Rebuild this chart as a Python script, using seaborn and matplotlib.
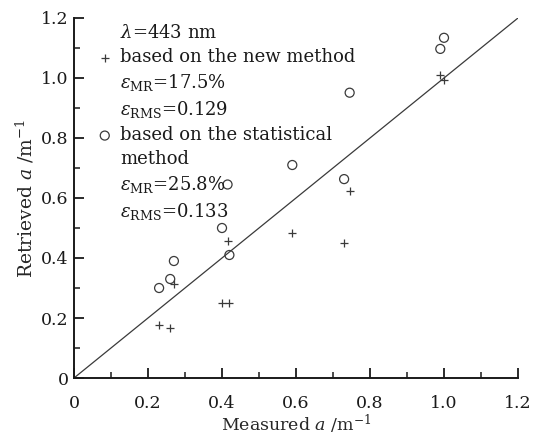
import matplotlib
matplotlib.use("Agg")
import matplotlib.pyplot as plt
from matplotlib.lines import Line2D
from matplotlib.ticker import MultipleLocator, FuncFormatter
import pandas as pd
import seaborn as sns

# measured vs retrieved absorption at 443 nm
measured = [0.23, 0.26, 0.27, 0.40, 0.415, 0.42, 0.59, 0.73, 0.745, 0.99, 1.00]
new_method = [0.177, 0.166, 0.313, 0.25, 0.456, 0.25, 0.484, 0.45, 0.623, 1.01, 0.993]
statistical = [0.30, 0.33, 0.39, 0.50, 0.645, 0.41, 0.71, 0.663, 0.951, 1.097, 1.134]

df = pd.DataFrame({"measured": measured, "new": new_method, "stat": statistical})

sns.set_style("ticks")
plt.rcParams["font.family"] = ["DejaVu Serif"]
plt.rcParams["mathtext.fontset"] = "dejavuserif"
plt.rcParams["text.color"] = "#1a1a1a"

ink = "#3a3a3a"
fig = plt.figure(figsize=(5.5, 4.36), dpi=100)
ax = fig.add_axes([74 / 550, 1 - 378 / 436, 444 / 550, 360 / 436])

sns.scatterplot(data=df, x="measured", y="new", marker="+", s=38, color=ink,
                linewidth=0.9, ax=ax, label="based on the new method")
sns.scatterplot(data=df, x="measured", y="stat", marker="o", s=42, facecolors="none",
                edgecolor=ink, linewidth=0.9, ax=ax, label="based on the statistical")
ax.axline((0, 0), slope=1, color=ink, lw=0.9)

ax.set_xlim(0, 1.2)
ax.set_ylim(0, 1.2)
ax.xaxis.set_major_locator(MultipleLocator(0.2))
ax.yaxis.set_major_locator(MultipleLocator(0.2))
ax.xaxis.set_minor_locator(MultipleLocator(0.1))
ax.yaxis.set_minor_locator(MultipleLocator(0.1))
fmt = FuncFormatter(lambda v, p: "0" if abs(v) < 1e-9 else f"{v:.1f}")
ax.xaxis.set_major_formatter(fmt)
ax.yaxis.set_major_formatter(fmt)
ax.tick_params(which="major", direction="in", length=7, width=1.3, labelsize=12.5,
               colors="#1a1a1a")
ax.tick_params(which="minor", direction="in", length=4, width=1.1, colors="#1a1a1a")
ax.tick_params(axis="x", which="major", pad=12)
ax.tick_params(axis="y", which="major", pad=4)
for side in ["top", "right"]:
    ax.spines[side].set_visible(False)
for side in ["left", "bottom"]:
    ax.spines[side].set_linewidth(1.4)
    ax.spines[side].set_color("#1a1a1a")

ax.set_xlabel("Measured $a$ /m$^{-1}$", fontsize=12.5, labelpad=1)
ax.set_ylabel("Retrieved $a$ /m$^{-1}$", fontsize=13.5, labelpad=3)

h, l = ax.get_legend_handles_labels()
blank = Line2D([], [], linestyle="none")
handles = [blank, h[0], blank, blank, h[1], blank, blank, blank]
labels = [
    r"$\lambda$=443 nm",
    "based on the new method",
    r"$\varepsilon_{\rm MR}$=17.5%",
    r"$\varepsilon_{\rm RMS}$=0.129",
    "based on the statistical",
    "method",
    r"$\varepsilon_{\rm MR}$=25.8%",
    r"$\varepsilon_{\rm RMS}$=0.133",
]
ax.legend(handles, labels, loc="upper left", bbox_to_anchor=(0.053, 0.982),
          frameon=False, fontsize=13, handlelength=0.8, handletextpad=0.45,
          labelspacing=0.33, borderpad=0, borderaxespad=0)

fig.savefig("out.png", dpi=100)
